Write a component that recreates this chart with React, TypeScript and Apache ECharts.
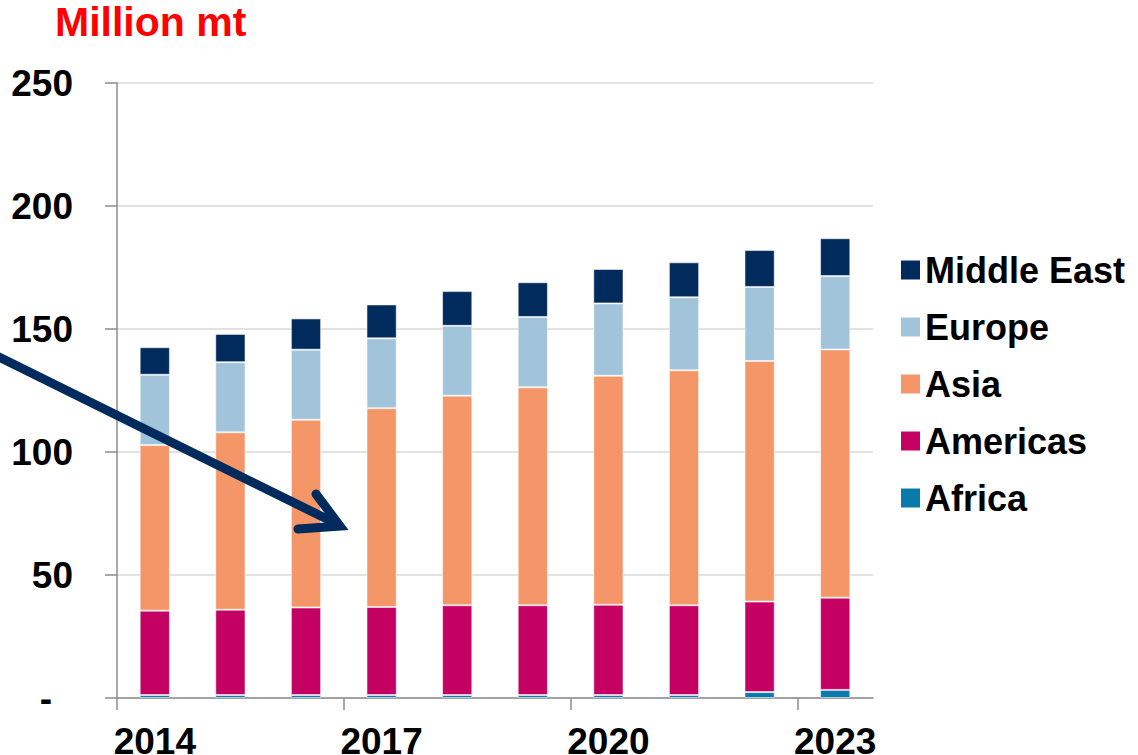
import React, { useEffect, useRef } from "react";
import * as echarts from "echarts";

const years = ["2014", "2015", "2016", "2017", "2018", "2019", "2020", "2021", "2022", "2023"];
const africa = [1.2, 1.2, 1.2, 1.2, 1.2, 1.2, 1.2, 1.2, 2.4, 3.3];
const americas = [34.3, 34.7, 35.6, 35.8, 36.5, 36.5, 36.7, 36.5, 36.8, 37.5];
const asia = [67.3, 72.1, 76.3, 80.8, 85.2, 88.6, 93.1, 95.5, 97.8, 100.9];
const europe = [28.6, 28.5, 28.5, 28.4, 28.4, 28.6, 29.4, 29.7, 30.1, 29.8];
const middleEast = [11.2, 11.5, 12.7, 13.8, 14.1, 14.1, 14.0, 14.2, 15.0, 15.4];
const yTicks = [0, 50, 100, 150, 200, 250];
// category boundaries where the x-axis tick marks sit (every third year)
const xTickBoundaries = [-0.5, 2.5, 5.5, 8.5];

const FONT = "'Liberation Sans', Arial, sans-serif";

const seriesDefs = [
  { name: "Africa", data: africa, color: "#0A7AAA" },
  { name: "Americas", data: americas, color: "#C40063" },
  { name: "Asia", data: asia, color: "#F59668" },
  { name: "Europe", data: europe, color: "#A2C4DA" },
  { name: "Middle East", data: middleEast, color: "#002B5C" },
];

export default function App() {
  const ref = useRef<HTMLDivElement>(null);
  useEffect(() => {
    if (!ref.current) return;
    const chart = echarts.init(ref.current, null, { renderer: "svg" });
    const axisGray = "#8c8c8c";
    chart.setOption({
      animation: false,
      backgroundColor: "#ffffff",
      title: {
        text: "Million mt",
        left: 50,
        top: -4,
        textStyle: { color: "#FF0000", fontSize: 41, fontWeight: "bold", fontFamily: FONT },
      },
      grid: {
        left: 117,
        right: 265,
        top: 83,
        bottom: 57,
        containLabel: false,
        outerBoundsMode: "none",
      },
      legend: {
        orient: "vertical",
        left: 896,
        top: 245,
        itemWidth: 19,
        itemHeight: 19,
        itemGap: 17,
        icon: "rect",
        data: ["Middle East", "Europe", "Asia", "Americas", "Africa"],
        itemStyle: { borderWidth: 0 },
        textStyle: { color: "#000", fontSize: 36, fontWeight: "bold", fontFamily: FONT, lineHeight: 40 },
      },
      xAxis: [
        {
          type: "category",
          data: years,
          boundaryGap: true,
          axisLine: { show: true, onZero: false, lineStyle: { color: axisGray, width: 1.5 } },
          axisTick: { show: false },
          axisLabel: {
            interval: 2,
            margin: 25,
            color: "#000",
            fontSize: 37,
            fontWeight: "bold",
            fontFamily: FONT,
          },
        },
        {
          type: "value",
          position: "bottom",
          min: -0.5,
          max: years.length - 0.5,
          axisLine: { show: false, onZero: false },
          splitLine: { show: false },
          axisLabel: { show: false },
          axisTick: {
            show: true,
            length: 12,
            customValues: xTickBoundaries,
            lineStyle: { color: axisGray, width: 1.5 },
          },
        },
      ],
      yAxis: {
        type: "value",
        min: yTicks[0],
        max: yTicks[yTicks.length - 1],
        interval: 50,
        axisLine: { show: true, onZero: false, lineStyle: { color: axisGray, width: 1.5 } },
        axisTick: { show: true, length: 12, lineStyle: { color: axisGray, width: 1.5 } },
        splitLine: { show: true, lineStyle: { color: "#d9d9d9", width: 1.5 } },
        axisLabel: {
          margin: 44,
          color: "#000",
          fontSize: 37,
          fontWeight: "bold",
          fontFamily: FONT,
          formatter: (v: number) => (v === 0 ? "{d|-}" : String(v)),
          rich: {
            d: { color: "#000", fontSize: 37, fontWeight: "bold", fontFamily: FONT, padding: [0, 21, 0, 0] },
          },
        },
      },
      series: seriesDefs.map((s) => ({
        name: s.name,
        type: "bar",
        stack: "total",
        xAxisIndex: 0,
        data: s.data,
        barWidth: "40%",
        itemStyle: { color: s.color, borderColor: "rgba(255,255,255,0.55)", borderWidth: 1 },
      })),
      graphic: [
        {
          type: "polyline",
          z: 100,
          shape: { points: [[-5, 355], [333, 522]] },
          style: { stroke: "#002B5C", lineWidth: 9, fill: null, lineCap: "butt" },
        },
        {
          type: "polyline",
          z: 100,
          shape: { points: [[316, 494], [340, 526], [298, 529]] },
          style: { stroke: "#002B5C", lineWidth: 9, fill: null, lineCap: "round", lineJoin: "miter" },
        },
      ],
    });
    return () => chart.dispose();
  }, []);
  return (
    <div
      ref={ref}
      style={{ position: "fixed", left: 0, top: 0, width: 1138, height: 755, background: "#fff" }}
    />
  );
}
